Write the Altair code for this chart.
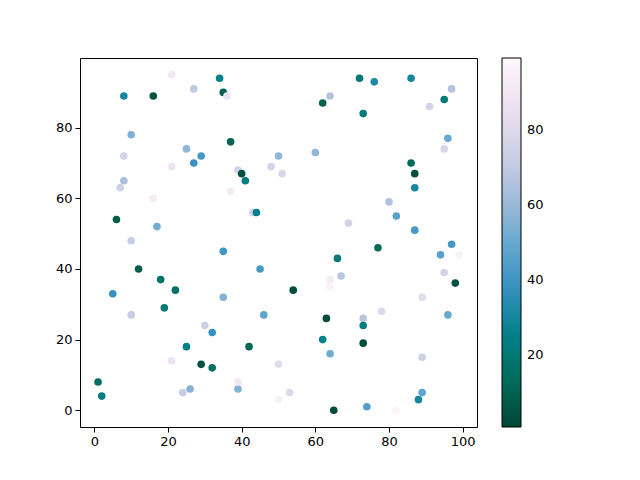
import altair as alt
import pandas as pd

xs = [1, 2, 5, 6, 8, 8, 8, 7, 10, 10, 10, 12, 16, 16, 17, 18, 19, 21, 21, 21,
      22, 24, 25, 25, 26, 27, 27, 29, 29, 30, 32, 32, 34, 35, 36, 37, 37, 35, 35, 39,
      40, 41, 39, 39, 42, 43, 44, 45, 46, 48, 50, 51, 50, 50, 54, 53, 60, 62, 62, 63,
      64, 64, 64, 64, 65, 66, 67, 69, 72, 73, 73, 73, 73, 74, 76, 77, 78, 80, 82, 82,
      86, 86, 87, 87, 87, 88, 89, 89, 89, 91, 94, 95, 95, 95, 96, 96, 97, 97, 98, 99]
ys = [8, 4, 33, 54, 89, 72, 65, 63, 78, 48, 27, 40, 89, 60, 52, 37, 29, 95, 69, 14,
      34, 5, 74, 18, 6, 91, 70, 72, 13, 24, 22, 12, 94, 90, 89, 76, 62, 45, 32, 68,
      67, 65, 6, 8, 18, 56, 56, 40, 27, 69, 72, 67, 13, 3, 34, 5, 73, 87, 20, 26,
      89, 37, 35, 16, 0, 43, 38, 53, 94, 84, 26, 24, 19, 1, 93, 46, 28, 59, 55, 0,
      94, 70, 67, 63, 51, 3, 5, 32, 15, 86, 44, 74, 39, 88, 77, 27, 91, 47, 36, 44]
cs = [15, 24, 38, 8, 30, 76, 64, 74, 55, 72, 72, 8, 5, 92, 52, 17, 20, 90, 88, 88,
      17, 72, 58, 24, 56, 70, 38, 42, 5, 74, 38, 16, 26, 10, 88, 10, 92, 40, 55, 76,
      5, 22, 55, 90, 12, 76, 25, 42, 48, 76, 58, 78, 82, 95, 4, 80, 58, 10, 26, 3,
      66, 92, 96, 52, 3, 22, 68, 76, 20, 22, 68, 22, 3, 45, 32, 13, 80, 66, 46, 97,
      30, 13, 4, 30, 42, 30, 48, 82, 74, 76, 46, 78, 76, 20, 50, 50, 66, 42, 5, 96]

# PuBuGn reversed (dark green -> near white)
cmap = ["#014636", "#016c59", "#02818a", "#3690c0", "#67a9cf",
        "#a6bddb", "#d0d1e6", "#ece2f0", "#fff7fb"]
cmin, cmax = 1, 99
stops = [cmin + (cmax - cmin) * i / 8 for i in range(9)]

df = pd.DataFrame({"x": xs, "y": ys, "c": cs})

font = "DejaVu Sans"

chart = (
    alt.Chart(df)
    .mark_circle(size=58, opacity=1)
    .encode(
        x=alt.X("x:Q", title=None,
                scale=alt.Scale(domain=[-3.9, 103.9], nice=False, zero=False),
                axis=alt.Axis(values=[0, 20, 40, 60, 80, 100], grid=False)),
        y=alt.Y("y:Q", title=None,
                scale=alt.Scale(domain=[-4.75, 99.75], nice=False, zero=False),
                axis=alt.Axis(values=[0, 20, 40, 60, 80], grid=False)),
        color=alt.Color(
            "c:Q",
            scale=alt.Scale(domain=stops, range=cmap, interpolate="rgb"),
            legend=alt.Legend(
                title=None, orient="none", legendX=422, legendY=0,
                direction="vertical", gradientLength=369, gradientThickness=19,
                values=[20, 40, 60, 80], labelFontSize=13, labelFont=font,
                labelColor="black", labelOffset=6,
                gradientStrokeColor="black", gradientStrokeWidth=1,
            ),
        ),
    )
    .properties(
        width=397, height=369,
        autosize=alt.AutoSizeParams(type="none"),
        padding={"left": 72, "top": 50, "right": 140, "bottom": 40},
    )
    .configure_view(stroke="black", strokeWidth=1)
    .configure_axis(
        domain=False, tickColor="black", tickSize=5, labelFontSize=13,
        labelFont=font, labelColor="black", labelPadding=3,
    )
)

chart.save("out.html", embed_options={"renderer": "svg", "actions": False})
